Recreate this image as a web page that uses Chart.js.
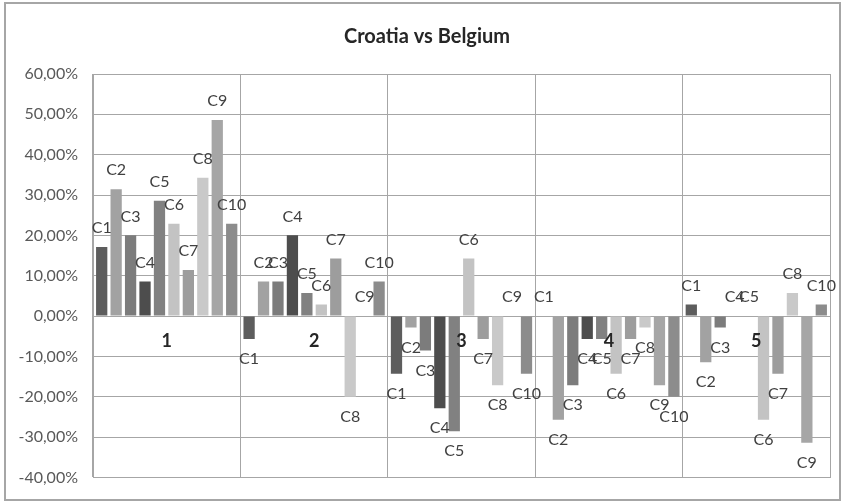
<!DOCTYPE html>
<html lang="en">
<head>
<meta charset="UTF-8">
<title>Croatia vs Belgium</title>
<script src="https://cdn.jsdelivr.net/npm/chart.js@4.4.1/dist/chart.umd.min.js"></script>
<style>
    html, body { margin: 0; padding: 0; background: #ffffff; }
    #wrap { width: 843px; height: 502px; position: relative; }
</style>
</head>
<body>
<div id="wrap"><canvas id="chart"></canvas></div>
<script>
    // Categories and series (values in %)
    const groups = ['1', '2', '3', '4', '5'];
    const seriesNames = ['C1', 'C2', 'C3', 'C4', 'C5', 'C6', 'C7', 'C8', 'C9', 'C10'];
    const c1 = [17.14, -5.71, -14.29, 0, 2.86];
    const c2 = [31.43, 8.57, -2.86, -25.71, -11.43];
    const c3 = [20.00, 8.57, -8.57, -17.14, -2.86];
    const c4 = [8.57, 20.00, -22.86, -5.71, 0];
    const c5 = [28.57, 5.71, -28.57, -5.71, 0];
    const c6 = [22.86, 2.86, 14.29, -14.29, -25.71];
    const c7 = [11.43, 14.29, -5.71, -5.71, -14.29];
    const c8 = [34.29, -20.00, -17.14, -2.86, 5.71];
    const c9 = [48.57, 0, 0, -17.14, -31.43];
    const c10 = [22.86, 8.57, -14.29, -20.00, 2.86];
    const yTicks = [60, 50, 40, 30, 20, 10, 0, -10, -20, -30, -40];

    const seriesValues = [c1, c2, c3, c4, c5, c6, c7, c8, c9, c10];
    const barColors = ['#5d5d5d', '#a2a2a2', '#7c7c7c', '#4d4d4d', '#818181',
                       '#c3c3c3', '#9d9d9d', '#c9c9c9', '#a6a6a6', '#8c8c8c'];

    const FONT = 'Lato, "DejaVu Sans", sans-serif';

    // Series name above / below each bar, group number under the zero line
    const labelPlugin = {
        id: 'barLabels',
        beforeDraw(chart) {
            const ctx = chart.ctx;
            ctx.save();
            ctx.strokeStyle = '#a6a6a6';
            ctx.lineWidth = 2;
            ctx.strokeRect(5, 3, 835, 497);
            ctx.restore();
        },
        afterDatasetsDraw(chart) {
            const ctx = chart.ctx;
            ctx.save();
            ctx.font = '16px ' + FONT;
            ctx.fillStyle = '#404040';
            ctx.textAlign = 'center';
            chart.data.datasets.forEach((ds, i) => {
                const meta = chart.getDatasetMeta(i);
                meta.data.forEach((bar, j) => {
                    const v = ds.data[j];
                    if (v >= 0) {
                        ctx.textBaseline = 'bottom';
                        ctx.fillText(ds.label, bar.x, bar.y - 11);
                    } else {
                        ctx.textBaseline = 'top';
                        ctx.fillText(ds.label, bar.x, bar.y + 12);
                    }
                });
            });
            const xs = chart.scales.x, ys = chart.scales.y;
            ctx.font = 'bold 18px ' + FONT;
            ctx.fillStyle = '#262626';
            ctx.textBaseline = 'middle';
            groups.forEach((g, j) => {
                ctx.fillText(g, xs.getPixelForValue(j), ys.getPixelForValue(0) + 25);
            });
            ctx.font = 'bold 20px ' + FONT;
            ctx.fillText('Croatia vs Belgium', 427, 37);
            ctx.restore();
        }
    };

    new Chart(document.getElementById('chart'), {
        type: 'bar',
        data: {
            labels: groups,
            datasets: seriesNames.map((name, i) => ({
                label: name,
                data: seriesValues[i],
                backgroundColor: barColors[i],
                borderWidth: 0,
                categoryPercentage: 0.98,
                barPercentage: 0.78
            }))
        },
        options: {
            responsive: true,
            maintainAspectRatio: false,
            animation: false,
            layout: { padding: { left: 8, right: 13, top: 74, bottom: 17.4 } },
            plugins: {
                legend: { display: false },
                title: { display: false },
                tooltip: { enabled: false }
            },
            scales: {
                x: {
                    afterFit(scale) { scale.height = 0; },
                    ticks: { display: false },
                    grid: { color: '#a6a6a6', drawTicks: false, offset: true },
                    border: { color: '#a6a6a6' }
                },
                y: {
                    min: -40,
                    max: 60,
                    afterFit(scale) { scale.width = 85; },
                    afterBuildTicks(scale) { scale.ticks = yTicks.map(v => ({ value: v })); },
                    ticks: {
                        padding: 15,
                        color: '#595959',
                        font: { family: FONT, size: 16 },
                        callback: v => v.toFixed(2).replace('.', ',') + '%'
                    },
                    grid: { color: '#a6a6a6', drawTicks: false },
                    border: { color: '#a6a6a6' }
                }
            }
        },
        plugins: [labelPlugin]
    });
</script>
</body>
</html>
